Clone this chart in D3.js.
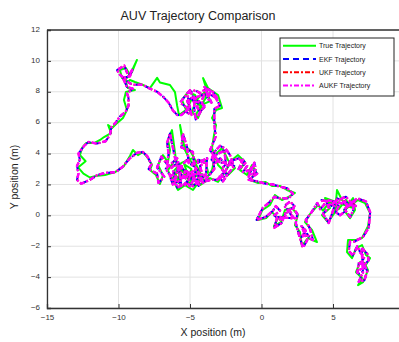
<!DOCTYPE html>
<html>
<head>
<meta charset="utf-8">
<script src="https://cdn.jsdelivr.net/npm/d3@7"></script>
<style>
  body { margin: 0; background: #fff; }
  svg { display: block; font-family: "Liberation Sans", Arial, sans-serif; }
</style>
</head>
<body>
<svg id="chart" width="399" height="342"></svg>
<script>
const truePath = [
  [-5.14,2.61],[-5.4,3.3],[-4.9,3.0],[-5.2,2.2],[-4.6,1.9],[-4.2,2.6],[-4.8,3.7],[-5.6,3.4],[-6.1,2.9],[-5.8,2.1],
  [-5.70,3.06],[-6.26,2.28],[-6.54,2.93],[-6.05,3.58],[-5.49,2.80],[-4.86,2.16],[-4.44,2.93],
  [-5.00,3.58],[-5.35,4.23],[-5.70,5.85],[-5.49,4.55],[-5.00,4.23],[-4.58,3.45],[-3.95,3.58],[-3.74,2.80],
  [-4.30,2.28],[-4.79,1.64],[-5.35,1.96],[-5.84,1.64],[-6.26,2.41],[-5.70,2.54],[-4.65,2.61],[-3.95,2.28],
  [-3.46,2.93],[-3.25,3.90],[-2.76,4.36],[-2.34,3.58],[-1.85,3.06],[-2.34,2.61],[-3.04,3.26],[-3.46,4.36],
  [-3.32,5.20],[-3.18,5.85],[-3.46,6.30],[-3.18,6.82],
  [-2.76,6.95],[-3.04,7.79],[-3.74,8.24],[-4.09,8.89],[-3.6,7.4],[-4.3,7.1],[-4.9,7.5],[-5.2,6.9],[-4.6,6.5],
  [-3.9,7.6],[-3.95,7.98],[-4.58,7.47],[-4.86,6.69],[-4.44,6.30],
  [-4.16,6.95],[-4.65,7.79],[-5.14,7.98],[-5.56,7.47],[-5.28,6.82],[-5.77,6.49],[-5.90,7.10],[-6.05,7.98],
  [-6.40,8.44],[-7.10,8.60],[-7.30,8.90],[-7.80,8.24],[-8.29,8.44],[-8.85,8.63],[-9.20,8.76],
  [-9.34,8.63],[-9.76,8.89],[-9.90,9.41],[-9.48,9.54],[-9.20,9.09],[-8.71,10.06],[-9.06,9.28],[-9.55,8.76],
  [-9.34,8.24],[-8.85,8.11],[-9.48,7.98],
  [-9.62,7.47],[-9.41,6.82],[-9.69,6.30],[-10.17,5.91],[-10.45,5.65],[-10.73,5.85],[-10.52,5.33],[-11.01,5.07],
  [-11.29,4.88],[-11.71,4.68],[-12.27,4.68],[-12.55,4.36],[-12.69,3.90],[-12.30,3.50],[-12.83,3.10],[-12.45,2.70],
  [-12.00,2.45],[-11.64,2.54],
  [-10.94,2.61],[-10.24,2.80],[-9.62,3.19],[-9.20,3.84],[-8.99,4.23],[-8.64,3.90],[-8.29,4.10],[-7.94,3.71],
  [-7.66,3.26],[-7.80,2.93],[-7.38,2.61],[-7.10,2.03],[-6.89,2.61],[-7.24,3.26],[-6.89,3.90],[-6.54,3.45],
  [-6.40,4.23],[-6.54,4.88],[-6.26,5.52],[-6.12,4.55],[-5.98,3.58],[-5.14,2.61],
  [-4.30,1.96],[-3.60,2.41],[-3.04,2.16],[-2.55,2.80],[-2.06,3.58],[-1.64,3.90],[-1.15,3.45],[-1.50,2.93],
  [-1.01,2.61],[-0.66,3.26],[-0.38,2.80],[-0.80,2.28],[-0.24,2.09],[0.26,2.16],[0.73,1.90],[1.29,1.90],
  [1.78,1.64],[2.34,1.45],
  [1.99,1.25],[1.43,0.99],[0.94,1.32],[0.59,0.67],[0.05,0.34],[-0.24,-0.31],[0.33,-0.18],[0.73,0.21],
  [1.15,-0.18],[0.87,-0.70],[1.36,-0.44],[1.64,0.34],[2.13,0.47],[2.55,0.02],[2.34,-0.63],[2.69,-1.08],
  [2.83,-1.98],[3.25,-1.47],[3.88,-1.73],[3.53,-0.95],[3.04,-0.44],[3.39,0.08],[3.95,0.67],
  [4.3,0.3],[4.8,0.9],[5.4,0.4],[5.9,1.0],[6.3,0.5],[4.44,1.12],
  [4.79,0.47],[4.23,0.02],[4.65,-0.44],[5.14,0.21],[5.28,1.64],[5.63,0.99],[6.05,0.67],[6.40,1.12],
  [6.54,0.34],[6.19,-0.18],[5.77,0.34],[6.75,0.99],[7.24,0.80],
  [7.59,0.15],[7.45,-0.70],[7.03,-1.47],[6.61,-1.60],[6.05,-1.60],[5.98,-2.38],[6.33,-2.77],[6.61,-2.12],
  [7.03,-1.93],[7.31,-2.57],[7.59,-2.77],[7.24,-3.29],[6.89,-3.03],[6.61,-3.68],[7.03,-4.06],[6.75,-4.52],
  [7.10,-4.32],[7.45,-3.55],[7.17,-3.03]
];

// filter estimate (EKF, UKF and AUKF lie on top of each other in the picture)
const estPath = [
  [-5.0,2.7],
  [-5.3,2.9],[-5.5,2.5],[-5.1,2.3],[-5.4,2.0],[-5.0,1.9],[-4.7,2.4],[-4.9,2.8],[-4.5,3.0],[-4.3,2.6],
  [-4.6,2.2],[-4.4,1.9],[-4.1,2.5],[-4.3,3.2],[-4.0,3.4],[-4.4,3.6],[-4.8,3.3],[-5.2,3.6],[-5.5,3.3],
  [-5.8,2.9],[-6.0,3.3],[-6.3,3.1],[-6.1,2.7],[-6.4,2.5],[-6.2,2.0],[-5.8,2.2],[-5.6,1.9],
  [-5.8,3.2],[-6.1,2.2],[-6.7,3.0],[-5.9,3.7],[-5.6,2.6],[-4.7,2.3],[-4.6,3.1],
  [-5.1,3.4],[-5.2,4.4],[-5.5,5.3],[-5.6,4.4],[-4.8,4.1],[-4.7,3.3],[-3.8,3.7],[-3.9,2.6],
  [-4.2,2.4],[-4.9,1.8],[-5.2,2.1],[-5.9,1.8],[-6.1,2.5],[-5.6,2.4],[-4.5,2.7],[-4.1,2.1],
  [-3.3,3.0],[-3.4,3.8],[-2.6,4.2],[-2.5,3.4],[-1.9,3.2],[-2.5,2.5],
  [-3.0,2.5],[-2.7,2.2],[-2.4,2.6],[-2.8,3.0],[-2.5,3.3],[-2.9,3.7],[-3.2,3.4],[-3.5,3.6],[-3.3,4.1],
  [-2.9,4.5],[-2.5,4.3],[-2.2,3.9],[-2.0,3.4],
  [-2.9,3.4],[-3.6,4.2],
  [-3.2,5.1],[-3.3,5.9],[-3.3,6.4],[-3.3,6.9],
  [-2.9,7.1],[-3.2,7.6],[-3.6,8.1],[-4.0,8.3],
  [-3.5,7.3],[-3.8,7.6],[-3.6,7.9],[-4.0,7.8],[-4.2,7.4],[-4.0,7.0],[-4.3,6.7],[-4.5,7.0],[-4.4,7.4],
  [-4.7,7.3],[-4.9,7.6],[-5.2,7.4],[-5.0,7.0],[-5.3,6.7],[-4.9,6.5],[-5.2,7.9],[-4.6,8.1],[-4.3,7.9],
  [-3.9,8.2],[-3.4,8.0],[-3.1,7.6],
  [-3.8,7.9],[-4.7,7.6],[-4.7,6.8],[-4.6,6.2],
  [-4.0,7.1],[-4.8,7.7],[-5.0,8.1],[-5.7,7.3],[-5.1,6.9],[-5.6,6.5],[-5.9,6.5],[-6.2,6.8],
  [-6.5,7.3],[-6.9,7.7],[-7.3,8.0],[-7.8,8.2],[-8.3,8.45],[-9.0,8.45],[-9.3,8.6],
  [-9.5,8.8],[-9.9,9.1],[-10.1,9.4],[-9.6,9.7],[-9.3,9.0],[-9.0,9.5],[-9.2,9.0],[-9.7,8.9],
  [-9.4,8.3],[-9.0,8.2],[-9.4,7.9],
  [-9.3,7.6],[-9.3,7.1],[-9.5,6.7],[-9.9,6.4],[-10.2,6.0],[-10.5,5.7],[-10.6,5.2],[-10.9,4.8],
  [-11.5,4.65],[-12.1,4.75],[-12.4,4.5],[-12.8,4.0],[-12.7,3.6],[-12.9,3.2],[-12.8,2.7],[-12.9,2.3],
  [-12.6,2.05],[-12.0,2.3],
  [-11.5,2.6],[-10.9,2.75],[-10.2,2.8],[-9.7,3.15],[-9.2,3.7],[-8.7,4.05],[-8.3,4.1],[-8.0,3.85],
  [-7.7,3.3],[-7.9,3.0],[-7.3,2.7],[-7.2,2.1],[-6.8,2.5],[-7.3,3.1],[-7.0,3.8],[-6.6,3.3],
  [-6.5,4.0],[-6.6,4.7],[-6.4,5.3],[-6.2,4.4],[-6.0,3.5],[-5.2,2.7],
  [-4.4,2.1],[-3.5,2.3],[-3.1,2.3],[-2.5,2.9],[-2.2,3.5],[-1.6,3.7],[-1.2,3.3],[-1.6,3.0],
  [-1.3,3.6],[-1.0,3.2],[-1.3,2.8],[-0.9,2.9],[-0.6,2.6],[-0.4,3.0],[-0.5,3.4],
  [-0.9,2.5],[-0.7,3.1],[-0.3,2.7],[-0.9,2.3],[-0.3,2.2],[0.3,2.05],[0.8,2.0],[1.3,1.85],
  [1.8,1.75],[2.2,1.4],
  [1.9,1.1],[1.3,1.1],[0.9,1.2],[0.5,0.8],[0.1,0.5],[-0.35,-0.3],[0.3,-0.1],[0.8,0.3],
  [1.0,0.6],[1.3,0.3],[0.9,0.0],[1.2,-0.3],[1.6,-0.1],[1.9,0.3],[1.6,0.6],[2.0,0.9],[2.3,0.6],
  [2.0,0.1],[2.3,-0.2],
  [1.1,-0.1],[0.9,-0.8],[1.4,-0.5],[1.7,0.2],[2.2,0.5],[2.5,0.1],[2.4,-0.5],[2.6,-1.2],
  [2.9,-2.1],[3.2,-1.6],
  [2.8,-0.7],[3.1,-1.0],[2.8,-1.4],[3.2,-1.2],[3.4,-1.5],
  [3.6,-1.6],[3.4,-0.9],[3.1,-0.3],[3.5,0.2],[3.9,0.8],
  [4.1,0.4],[4.4,0.7],[4.2,1.0],[4.6,0.9],[4.9,0.6],[5.1,0.9],[5.4,0.6],[5.2,0.2],[5.5,0.0],
  [5.9,0.3],[6.0,0.8],[5.6,1.1],[5.9,1.2],[6.3,0.8],[6.6,0.6],
  [4.5,1.0],
  [4.7,0.5],[4.3,0.1],[4.7,-0.5],[5.0,0.3],[5.3,1.1],[5.7,0.9],[6.1,0.6],[6.5,1.0],
  [6.4,0.3],[6.2,-0.1],[5.8,0.4],[6.7,1.1],[7.3,0.9],
  [7.6,0.2],[7.5,-0.8],[7.1,-1.4],[6.5,-1.7],[6.2,-1.7],[6.1,-2.3],[6.4,-2.6],[6.7,-2.0],
  [6.9,-2.4],[7.2,-2.7],[7.0,-3.0],[7.3,-3.4],[6.9,-3.5],[7.1,-3.7],
  [7.0,-2.1],[7.4,-2.5],[7.5,-2.9],[7.2,-3.2],[6.8,-3.1],[6.7,-3.7],[7.0,-3.9],[6.8,-4.3],
  [7.2,-4.2],[7.4,-3.6],[7.1,-3.1]
];

const xTicks = [-15, -10, -5, 0, 5, 10];
const yTicks = [-6, -4, -2, 0, 2, 4, 6, 8, 10, 12];

const series = [
  { name: "True Trajectory", data: truePath, color: "#00ff00", dash: null, width: 2 },
  { name: "EKF Trajectory", data: estPath, color: "#0000ff", dash: "6,4", width: 2 },
  { name: "UKF Trajectory", data: estPath, color: "#ff0000", dash: "5,2,2,2", width: 2 },
  { name: "AUKF Trajectory", data: estPath, color: "#ff00ff", dash: "5,2,2,2", width: 2.5 }
];

const svg = d3.select("#chart");
const mLeft = 47, mTop = 30, mBottom = 308, mRight = 404.5;

const x = d3.scaleLinear().domain([-15, 10]).range([mLeft, mRight]);
const y = d3.scaleLinear().domain([-6, 12]).range([mBottom, mTop]);

// grid
svg.append("g").selectAll("line").data(xTicks).enter().append("line")
  .attr("x1", d => x(d)).attr("x2", d => x(d))
  .attr("y1", mTop).attr("y2", mBottom)
  .attr("stroke", "#e2e2e2").attr("stroke-width", 1);
svg.append("g").selectAll("line").data(yTicks).enter().append("line")
  .attr("x1", mLeft).attr("x2", mRight)
  .attr("y1", d => y(d)).attr("y2", d => y(d))
  .attr("stroke", "#e2e2e2").attr("stroke-width", 1);

// trajectories
svg.append("clipPath").attr("id", "clip").append("rect")
  .attr("x", mLeft).attr("y", mTop).attr("width", mRight - mLeft).attr("height", mBottom - mTop);

const line = d3.line().x(d => x(d[0])).y(d => y(d[1]));
const plot = svg.append("g").attr("clip-path", "url(#clip)");
series.forEach(s => {
  plot.append("path")
    .attr("d", line(s.data))
    .attr("fill", "none")
    .attr("stroke", s.color)
    .attr("stroke-width", s.width)
    .attr("stroke-dasharray", s.dash)
    .attr("stroke-linejoin", "round");
});

// axes
const xAxis = svg.append("g")
  .attr("transform", "translate(0," + mBottom + ")")
  .call(d3.axisBottom(x).tickValues(xTicks).tickSize(-4).tickPadding(6));
const yAxis = svg.append("g")
  .attr("transform", "translate(" + mLeft + ",0)")
  .call(d3.axisLeft(y).tickValues(yTicks).tickSize(-4).tickPadding(7));

[xAxis, yAxis].forEach(a => {
  a.select(".domain").attr("stroke", "#333").attr("stroke-width", 1.3);
  a.selectAll(".tick line").attr("stroke", "#333");
  a.selectAll(".tick text").attr("fill", "#333").style("font-size", "8px")
    .style("font-family", "'Liberation Sans', Arial, sans-serif");
});
yAxis.selectAll(".tick text").attr("dy", "0.15em");

// top border
svg.append("line")
  .attr("x1", mLeft).attr("x2", mRight).attr("y1", mTop).attr("y2", mTop)
  .attr("stroke", "#333").attr("stroke-width", 1.3);

// titles
svg.append("text").attr("x", 198).attr("y", 20)
  .attr("text-anchor", "middle").style("font-size", "12.5px").attr("fill", "#222")
  .text("AUV Trajectory Comparison");
svg.append("text").attr("x", 213).attr("y", 336)
  .attr("text-anchor", "middle").style("font-size", "10.5px").attr("fill", "#222")
  .text("X position (m)");
svg.append("text")
  .attr("transform", "translate(18," + ((mTop + mBottom) / 2 + 8) + ") rotate(-90)")
  .attr("text-anchor", "middle").style("font-size", "10.5px").attr("fill", "#222")
  .text("Y position (m)");

// legend
const legend = svg.append("g").attr("transform", "translate(280,38)");
legend.append("rect").attr("width", 114).attr("height", 58)
  .attr("fill", "#fff").attr("stroke", "#222").attr("stroke-width", 1);
series.forEach((s, i) => {
  const ly = 7.7 + i * 13.3;
  legend.append("line")
    .attr("x1", 3).attr("x2", 36).attr("y1", ly).attr("y2", ly)
    .attr("stroke", s.color).attr("stroke-width", 2)
    .attr("stroke-dasharray", s.dash);
  legend.append("text").attr("x", 39).attr("y", ly + 2.5)
    .style("font-size", "7px").attr("fill", "#222").text(s.name);
});
</script>
</body>
</html>
